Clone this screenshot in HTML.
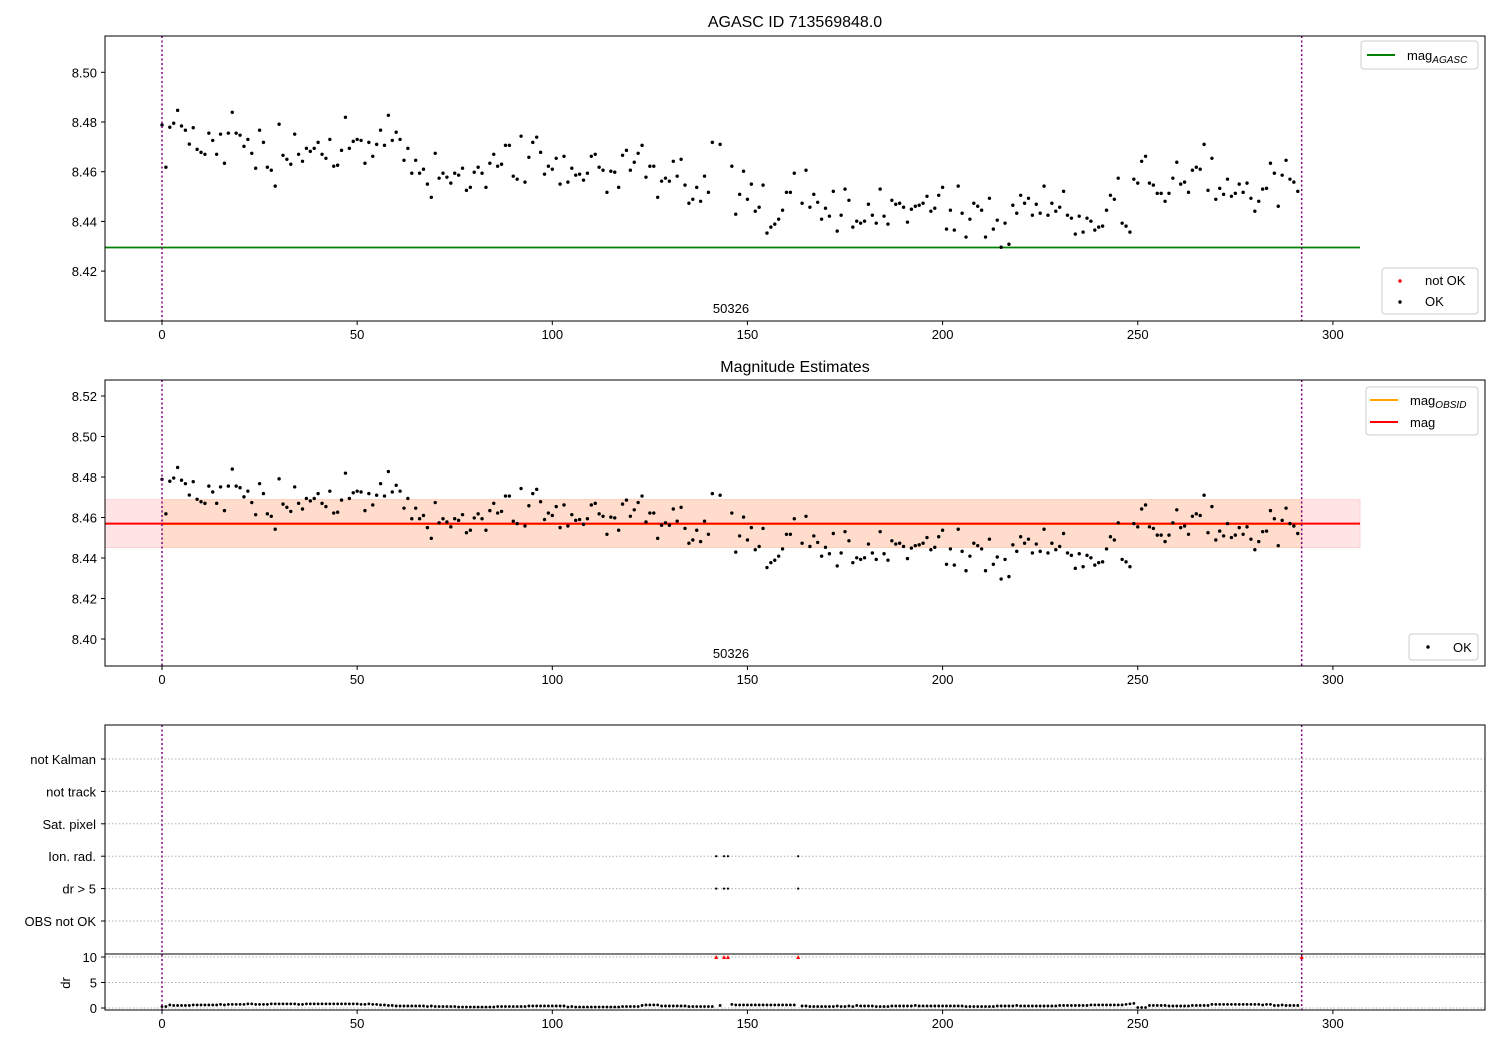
<!DOCTYPE html>
<html><head><meta charset="utf-8"><style>
body{margin:0;background:#fff}
svg text{font-family:"Liberation Sans","DejaVu Sans",sans-serif;fill:#000}
</style></head><body>
<svg id="chart" width="1500" height="1050" xmlns="http://www.w3.org/2000/svg"></svg>
<script>
const mags=[8.4788,8.4618,8.4779,8.4795,8.4847,8.4784,8.4767,8.4711,8.4777,8.469,
8.4678,8.467,8.4755,8.4726,8.467,8.4751,8.4634,8.4755,8.4839,8.4755,
8.4747,8.4702,8.473,8.4674,8.4614,8.4767,8.4718,8.4618,8.4606,8.4542,
8.4791,8.4666,8.465,8.463,8.4751,8.467,8.4642,8.4694,8.4682,8.4694,
8.4718,8.467,8.4654,8.473,8.4622,8.4626,8.4686,8.4819,8.4694,8.4722,
8.473,8.4726,8.4634,8.4718,8.4662,8.471,8.4767,8.4706,8.4827,8.4726,
8.4759,8.473,8.4646,8.4694,8.4594,8.4646,8.4594,8.461,8.455,8.4497,
8.4674,8.4574,8.4594,8.4578,8.4554,8.4594,8.4586,8.4614,8.4525,8.4537,
8.4598,8.4618,8.4594,8.4537,8.4634,8.467,8.4622,8.463,8.4706,8.4706,
8.4582,8.457,8.4743,8.4558,8.4658,8.4718,8.4739,8.4678,8.459,8.4622,
8.461,8.4654,8.455,8.4662,8.4558,8.4614,8.4586,8.459,8.4566,8.4594,
8.4662,8.467,8.4618,8.4606,8.4517,8.4602,8.4598,8.4537,8.4666,8.4686,
8.4606,8.4638,8.4674,8.4706,8.4578,8.4622,8.4622,8.4497,8.4562,8.4574,
8.4562,8.4642,8.4582,8.465,8.4546,8.4473,8.4489,8.4537,8.4481,8.4582,
8.4517,8.4718,null,8.471,null,null,8.4622,8.4429,8.4509,8.4602,
8.4489,8.455,8.4441,8.4457,8.4546,8.4353,8.4377,8.4389,8.4409,8.4445,
8.4517,8.4517,8.4594,null,8.4473,8.4606,8.4457,8.4509,8.4477,8.4409,
8.4453,8.4421,8.4521,8.4361,8.4425,8.453,8.4485,8.4377,8.4401,8.4393,
8.4401,8.4469,8.4425,8.4393,8.453,8.4421,8.4389,8.4485,8.4469,8.4473,
8.4457,8.4397,8.4449,8.4461,8.4465,8.4473,8.4501,8.4441,8.4453,8.4505,
8.4537,8.4369,8.4445,8.4365,8.4542,8.4433,8.4337,8.4409,8.4473,8.4461,
8.4445,8.4337,8.4493,8.4369,8.4405,8.4296,8.4393,8.4308,8.4465,8.4433,
8.4505,8.4473,8.4493,8.4425,8.4469,8.4433,8.4542,8.4425,8.4473,8.4441,
8.4457,8.4521,8.4425,8.4413,8.4349,8.4421,8.4357,8.4413,8.4401,8.4365,
8.4377,8.4381,8.4445,8.4505,8.4489,8.4574,8.4393,8.4381,8.4357,8.457,
8.4554,8.4642,8.4662,8.4554,8.4546,8.4513,8.4513,8.4481,8.4513,8.4574,
8.4638,8.455,8.4558,8.4517,8.4606,8.4618,8.461,8.471,8.4525,8.4654,
8.4489,8.4533,8.4509,8.457,8.4501,8.4513,8.455,8.4517,8.4554,8.4493,
8.4441,8.4481,8.453,8.4533,8.4634,8.4594,8.4461,8.4586,8.4646,8.457,
8.4558,8.4521,null];
const drVals=[.3,.3,.6,.5,.5,.5,.5,.5,.6,.6,.6,.6,.6,.6,.6,.7,.6,.7,.7,.7,
.7,.7,.8,.8,.7,.7,.7,.7,.8,.8,.8,.8,.8,.8,.8,.7,.7,.8,.8,.8,
.8,.8,.8,.8,.8,.8,.8,.8,.8,.8,.8,.7,.7,.8,.7,.7,.6,.6,.5,.5,
.4,.4,.4,.4,.4,.4,.4,.4,.3,.4,.3,.3,.3,.3,.3,.3,.2,.2,.2,.2,
.2,.2,.2,.2,.2,.2,.3,.3,.3,.3,.3,.3,.3,.3,.4,.4,.4,.4,.4,.4,
.4,.4,.4,.4,.2,.3,.2,.2,.2,.2,.2,.2,.2,.2,.2,.2,.2,.2,.3,.3,
.3,.3,.3,.5,.6,.6,.6,.6,.4,.4,.4,.4,.4,.4,.4,.3,.3,.3,.3,.3,
.3,.3,10,.5,10,10,.7,.6,.6,.6,.6,.6,.6,.6,.6,.6,.6,.6,.6,.6,
.6,.6,.6,10,.4,.4,.3,.3,.3,.3,.3,.3,.3,.4,.3,.3,.4,.3,.5,.4,
.4,.4,.4,.3,.3,.3,.3,.4,.4,.4,.4,.4,.4,.5,.4,.4,.4,.4,.4,.4,
.4,.4,.4,.4,.4,.4,.3,.3,.3,.3,.3,.3,.3,.3,.4,.4,.4,.4,.4,.5,
.4,.4,.4,.4,.4,.4,.4,.4,.4,.4,.5,.5,.5,.5,.5,.5,.5,.5,.6,.6,
.6,.6,.6,.6,.6,.6,.6,.7,.8,.9,.1,.1,.1,.5,.5,.5,.5,.5,.4,.4,
.4,.4,.4,.4,.5,.5,.5,.5,.5,.7,.7,.7,.7,.7,.7,.7,.7,.7,.7,.7,
.7,.7,.6,.7,.7,.5,.5,.6,.5,.5,.5,.5,10];
const flagIon=[142,144,145,163];
const flagDr=[142,144,145,163];
const magAgasc=8.4295, magObs=8.4568, magMean=8.457, bandLo=8.4452, bandHi=8.4688;
const xTicks=[0,50,100,150,200,250,300];
const y1Ticks=[8.42,8.44,8.46,8.48,8.50];
const y2Ticks=[8.40,8.42,8.44,8.46,8.48,8.50,8.52];
const cats=["not Kalman","not track","Sat. pixel","Ion. rad.","dr > 5","OBS not OK"];
const drTicks=[0,5,10];

const NS="http://www.w3.org/2000/svg", svg=document.getElementById('chart');
function el(t,a,p){const e=document.createElementNS(NS,t);for(const k in a)e.setAttribute(k,a[k]);(p||svg).appendChild(e);return e;}
const X=i=>162+i*3.903;
const Y1=v=>122+(8.48-v)/0.02*49.7;
const Y2=v=>477+(8.48-v)/0.02*40.5;
const catY=k=>759+k*32.4;
const DRY=v=>1008-v*5.1;
const L=105,R=1485;

function xAxis(g,bottom){
  xTicks.forEach(t=>{const x=X(t);el('line',{x1:x,x2:x,y1:bottom,y2:bottom+4,stroke:'#000'},g);
  const tx=el('text',{x:x,y:bottom+18,'text-anchor':'middle','font-size':13},g);tx.textContent=t;
  });
}
function vlines(g,top,bottom){[0,292].forEach(i=>el('line',{x1:X(i),x2:X(i),y1:top,y2:bottom,stroke:'#800080','stroke-width':1.5,'stroke-dasharray':'2,2.5'},g));}

// Panel 1
let g1=el('g',{});
let t=el('text',{x:795,y:27,'text-anchor':'middle','font-size':16},g1);t.textContent='AGASC ID 713569848.0';

el('line',{x1:L,x2:1360,y1:Y1(magAgasc),y2:Y1(magAgasc),stroke:'#008000','stroke-width':1.8},g1);
mags.forEach((v,i)=>{if(v===null)return;const c=el('circle',{cx:X(i),cy:Y1(v),r:1.7,fill:'#000'},g1);
});
vlines(g1,36,321);
el('rect',{x:L,y:36,width:R-L,height:285,fill:'none',stroke:'#000'},g1);
y1Ticks.forEach(v=>{const y=Y1(v);el('line',{x1:L-4,x2:L,y1:y,y2:y,stroke:'#000'},g1);const tx=el('text',{x:L-8,y:y+5,'text-anchor':'end','font-size':13},g1);tx.textContent=v.toFixed(2);});
xAxis(g1,321);
t=el('text',{x:731,y:313,'text-anchor':'middle','font-size':13},g1);t.textContent='50326';
// legends panel1
let lg=el('g',{});
el('rect',{x:1361,y:41,width:117,height:28,rx:3,fill:'#fff',stroke:'#ccc'},lg);
el('line',{x1:1367,x2:1395,y1:55,y2:55,stroke:'#008000','stroke-width':2},lg);
t=el('text',{x:1407,y:60,'font-size':13},lg);t.innerHTML='mag<tspan font-size="10" font-style="italic" dy="3">AGASC</tspan>';
lg=el('g',{});
el('rect',{x:1382,y:268,width:96,height:46,rx:3,fill:'#fff',stroke:'#ccc'},lg);
el('circle',{cx:1400,cy:281,r:1.7,fill:'#f00'},lg);el('circle',{cx:1400,cy:302,r:1.7,fill:'#000'},lg);
t=el('text',{x:1425,y:285,'font-size':13},lg);t.textContent='not OK';
t=el('text',{x:1425,y:306,'font-size':13},lg);t.textContent='OK';

// Panel 2
let g2=el('g',{});
t=el('text',{x:795,y:372,'text-anchor':'middle','font-size':16},g2);t.textContent='Magnitude Estimates';
el('rect',{x:L,y:Y2(bandHi),width:1360-L,height:Y2(bandLo)-Y2(bandHi),fill:'#ffe4e6',stroke:'#ffd0d4'},g2);
el('rect',{x:X(0),y:Y2(bandHi),width:X(292)-X(0),height:Y2(bandLo)-Y2(bandHi),fill:'#ffdccc',stroke:'#ffd0b8'},g2);
el('line',{x1:X(0),x2:X(292),y1:Y2(magObs),y2:Y2(magObs),stroke:'#ffa500','stroke-width':2},g2);
el('line',{x1:L,x2:1360,y1:Y2(magMean),y2:Y2(magMean),stroke:'#f00','stroke-width':2},g2);
mags.forEach((v,i)=>{if(v===null)return;const c=el('circle',{cx:X(i),cy:Y2(v),r:1.7,fill:'#000'},g2);
});
vlines(g2,380,666);
el('rect',{x:L,y:380,width:R-L,height:286,fill:'none',stroke:'#000'},g2);
y2Ticks.forEach(v=>{const y=Y2(v);el('line',{x1:L-4,x2:L,y1:y,y2:y,stroke:'#000'},g2);const tx=el('text',{x:L-8,y:y+5,'text-anchor':'end','font-size':13},g2);tx.textContent=v.toFixed(2);});
xAxis(g2,666);
t=el('text',{x:731,y:658,'text-anchor':'middle','font-size':13},g2);t.textContent='50326';
lg=el('g',{});
el('rect',{x:1366,y:387,width:112,height:48,rx:3,fill:'#fff',stroke:'#ccc'},lg);
el('line',{x1:1370,x2:1398,y1:400,y2:400,stroke:'#ffa500','stroke-width':2},lg);
el('line',{x1:1370,x2:1398,y1:422,y2:422,stroke:'#f00','stroke-width':2},lg);
t=el('text',{x:1410,y:405,'font-size':13},lg);t.innerHTML='mag<tspan font-size="10" font-style="italic" dy="3">OBSID</tspan>';
t=el('text',{x:1410,y:427,'font-size':13},lg);t.textContent='mag';
lg=el('g',{});
el('rect',{x:1409,y:634,width:69,height:26,rx:3,fill:'#fff',stroke:'#ccc'},lg);
el('circle',{cx:1428,cy:647,r:1.7,fill:'#000'},lg);
t=el('text',{x:1453,y:652,'font-size':13},lg);t.textContent='OK';

// Panel 3
let g3=el('g',{});
cats.forEach((c,k)=>{const y=catY(k);el('line',{x1:L,x2:R,y1:y,y2:y,stroke:'#b0b0b0','stroke-dasharray':'1.5,2'},g3);
el('line',{x1:L-4,x2:L,y1:y,y2:y,stroke:'#000'},g3);
const tx=el('text',{x:L-9,y:y+5,'text-anchor':'end','font-size':13},g3);tx.textContent=c;});
drTicks.forEach(v=>{const y=DRY(v);el('line',{x1:L,x2:R,y1:y,y2:y,stroke:'#b0b0b0','stroke-dasharray':'1.5,2'},g3);
el('line',{x1:L-4,x2:L,y1:y,y2:y,stroke:'#000'},g3);
const tx=el('text',{x:L-8,y:y+5,'text-anchor':'end','font-size':13},g3);tx.textContent=v;});
t=el('text',{x:70,y:983,'text-anchor':'middle','font-size':13,transform:'rotate(-90 70 983)'},g3);t.textContent='dr';
el('line',{x1:L,x2:R,y1:954,y2:954,stroke:'#000'},g3);
flagIon.forEach(i=>{const c=el('circle',{cx:X(i),cy:catY(3),r:1.1,fill:'#000'},g3);});
flagDr.forEach(i=>{const c=el('circle',{cx:X(i),cy:catY(4),r:1.1,fill:'#000'},g3);});
drVals.forEach((v,i)=>{const x=X(i),y=DRY(v);
 if(v>5){const p=el('path',{d:`M${x-2},${y+2}L${x+2},${y+2}L${x},${y-2}Z`,fill:'#f00'},g3);}
 else{const c=el('circle',{cx:x,cy:y,r:1.4,fill:'#000'},g3);}});
vlines(g3,725,1010);
el('rect',{x:L,y:725,width:R-L,height:285,fill:'none',stroke:'#000'},g3);
xAxis(g3,1010);
</script>
</body></html>
